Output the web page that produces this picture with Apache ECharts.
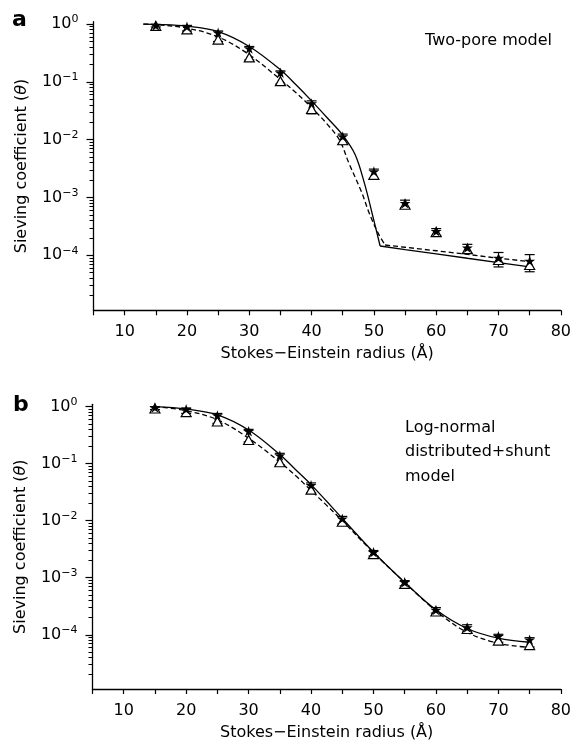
<!DOCTYPE html>
<html>
<head>
<meta charset="utf-8">
<script src="https://cdn.jsdelivr.net/npm/echarts@6/dist/echarts.min.js"></script>
<style>
  html, body { margin: 0; padding: 0; background: #fff; }
  #chart { width: 574px; height: 742px; }
</style>
</head>
<body>
<div id="chart"></div>
<script>
// measured radii (Å)
const radius = [15, 20, 25, 30, 35, 40, 45, 50, 55, 60, 65, 70, 75];

// panel a - two-pore model
const aStar = [0.95, 0.90, 0.71, 0.38, 0.144, 0.0425, 0.0114, 0.00283, 0.00080, 0.000262, 0.000135, 9.0e-5, 8.0e-5];
const aTriangle = [0.93, 0.81, 0.54, 0.265, 0.103, 0.034, 0.0098, 0.00247, 0.00075, 0.000252, 0.000128, 8.3e-5, 6.8e-5];
const aErrLow = [0.89, 0.76, 0.50, 0.24, 0.092, 0.028, 0.0083, 0.00214, 0.00066, 0.00022, 0.000108, 6.3e-5, 5.2e-5];
const aErrHigh = [0.99, 0.95, 0.76, 0.41, 0.155, 0.047, 0.0125, 0.0031, 0.0009, 0.00029, 0.000155, 1.12e-4, 1.03e-4];
const aSolidX = [13, 15, 20, 25, 30, 35, 37.5, 40, 42.5, 45, 47, 48.5, 49.7, 51, 55, 60, 65, 70, 75];
const aSolidY = [1.0, 0.99, 0.92, 0.74, 0.41, 0.162, 0.089, 0.047, 0.024, 0.012, 0.0055, 0.00174, 0.00054, 0.000145, 0.000126, 0.000106, 8.9e-5, 7.5e-5, 6.3e-5];
const aDashX = [13, 15, 20, 25, 30, 35, 37.5, 40, 42.5, 44.5, 46, 48, 49.3, 50.7, 51.8, 55, 60, 65, 70, 75];
const aDashY = [1.0, 0.98, 0.85, 0.60, 0.295, 0.11, 0.065, 0.036, 0.0186, 0.0098, 0.0039, 0.00126, 0.00052, 0.00024, 0.000151, 0.000138, 0.00012, 0.000104, 8.9e-5, 7.8e-5];
// radius where the two-pore curves break into the shunt tail
const aSolidKink = 51;
const aDashKink = 51.8;

// panel b - log-normal distributed + shunt model
const bStar = [0.97, 0.90, 0.70, 0.37, 0.139, 0.042, 0.0108, 0.0028, 0.00083, 0.000272, 0.000134, 9.4e-5, 8.2e-5];
const bTriangle = [0.93, 0.80, 0.55, 0.26, 0.106, 0.035, 0.0096, 0.0026, 0.00078, 0.000256, 0.000126, 7.9e-5, 6.6e-5];
const bErrLow = [0.89, 0.76, 0.51, 0.24, 0.095, 0.031, 0.0088, 0.0024, 0.00072, 0.00024, 0.000112, 7.4e-5, 6.1e-5];
const bErrHigh = [1.0, 0.95, 0.76, 0.40, 0.152, 0.046, 0.0119, 0.0030, 0.00089, 0.00030, 0.000150, 1.02e-4, 8.9e-5];
const bSolidX = [15, 20, 25, 30, 35, 37.5, 40, 42.5, 45, 47.5, 50, 55, 60, 65, 70, 75];
const bSolidY = [1.0, 0.91, 0.72, 0.39, 0.145, 0.079, 0.043, 0.0219, 0.011, 0.0055, 0.0028, 0.00083, 0.000275, 0.000129, 8.7e-5, 7.4e-5];
const bDashX = [15, 20, 25, 30, 35, 37.5, 40, 42.5, 45, 50, 55, 60, 65, 70, 75];
const bDashY = [1.0, 0.85, 0.59, 0.28, 0.107, 0.062, 0.034, 0.0186, 0.010, 0.00275, 0.00083, 0.000263, 0.00011, 7.1e-5, 6.0e-5];

// axes
const yLabelTicks = [1e-4, 1e-3, 1e-2, 1e-1, 1];
const yMin = 1.12e-5;
const yMax = 1.1;
const xMin = 5, xMax = 80, xStep = 5;

const FONT = 'DejaVu Sans';
const BLACK = '#000';
const STAR = 'path://M0,-100L22.45,-30.9L95.1,-30.9L36.3,11.8L58.8,80.9L0,38.2L-58.8,80.9L-36.3,11.8L-95.1,-30.9L-22.45,-30.9Z';

// minor log ticks 2..9 x 10^n
const yMinorTicks = [];
for (let e = -5; e <= 0; e++) {
  for (let k = 2; k <= 9; k++) {
    const v = k * Math.pow(10, e);
    if (v >= yMin && v <= yMax) yMinorTicks.push(v);
  }
}

const chart = echarts.init(document.getElementById('chart'), null, { renderer: 'canvas' });

const supLabel = (v) => {
  const e = Math.round(Math.log10(v));
  return '{b|10}{s|' + (e < 0 ? '\u2212' + (-e) : String(e)) + '}';
};

const makeX = (gridIndex) => ({
  type: 'value', gridIndex, min: xMin, max: xMax, interval: xStep,
  axisLine: { show: true, onZero: false, lineStyle: { color: BLACK, width: 1.3 } },
  axisTick: { show: true, length: 5, lineStyle: { color: BLACK, width: 1.2 } },
  axisLabel: {
    margin: 14, color: BLACK, fontFamily: FONT, fontSize: 16,
    formatter: (v) => (v % 10 === 0 ? String(v) : ''),
  },
  splitLine: { show: false },
  name: 'Stokes\u2212Einstein radius (\u00c5)',
  nameLocation: 'middle', nameGap: 36,
  nameTextStyle: { color: BLACK, fontFamily: FONT, fontSize: 16 },
});

const makeY = (gridIndex) => [
  {
    type: 'log', gridIndex, position: 'left', min: yMin, max: yMax,
    axisLine: { show: true, onZero: false, lineStyle: { color: BLACK, width: 1.3 } },
    axisTick: { show: true, length: 7, customValues: yLabelTicks, lineStyle: { color: BLACK, width: 1.2 } },
    axisLabel: {
      customValues: yLabelTicks, formatter: supLabel, margin: 15,
      rich: {
        b: { fontFamily: FONT, fontSize: 16, color: BLACK, lineHeight: 20 },
        s: { fontFamily: FONT, fontSize: 11, color: BLACK, verticalAlign: 'top', lineHeight: 11 },
      },
    },
    splitLine: { show: false },
    name: 'Sieving coefficient ({i|\u03b8})',
    nameLocation: 'middle', nameGap: 64, nameRotate: 90,
    nameTextStyle: {
      color: BLACK, fontFamily: FONT, fontSize: 16,
      rich: { i: { fontStyle: 'italic', fontFamily: FONT, fontSize: 16, color: BLACK } },
    },
  },
  {
    // minor ticks only
    type: 'log', gridIndex, position: 'left', offset: 0, min: yMin, max: yMax,
    axisLine: { show: false },
    axisTick: { show: true, length: 4, customValues: yMinorTicks, lineStyle: { color: BLACK, width: 1 } },
    axisLabel: { show: true, customValues: yMinorTicks, formatter: () => '' },
    splitLine: { show: false },
  },
];

// error bars drawn through the axes
const errorBars = (params, api) => {
  const x = api.value(0);
  const lo = api.coord([x, api.value(1)]);
  const hi = api.coord([x, api.value(2)]);
  const half = 5;
  const style = { stroke: BLACK, lineWidth: 1.2 };
  return {
    type: 'group',
    children: [
      { type: 'line', shape: { x1: lo[0], y1: lo[1], x2: hi[0], y2: hi[1] }, style },
      { type: 'line', shape: { x1: lo[0] - half, y1: lo[1], x2: lo[0] + half, y2: lo[1] }, style },
      { type: 'line', shape: { x1: hi[0] - half, y1: hi[1], x2: hi[0] + half, y2: hi[1] }, style },
    ],
  };
};

// a model curve; if a kink radius is given, the tail after it is drawn straight
const curveSeries = (idx, xs, ys, dashed, kink) => {
  const pts = xs.map((x, i) => [x, ys[i]]);
  const lineStyle = { color: BLACK, width: 1.3, type: dashed ? [5, 3] : 'solid' };
  const base = { type: 'line', xAxisIndex: idx, yAxisIndex: idx * 2, showSymbol: false, lineStyle, z: 3 };
  if (kink == null) return [{ ...base, data: pts, smooth: 0.35 }];
  const k = xs.indexOf(kink);
  return [
    { ...base, data: pts.slice(0, k + 1), smooth: 0.35 },
    { ...base, data: pts.slice(k), smooth: false },
  ];
};

const panelSeries = (idx, star, tri, lo, hi, sx, sy, dx, dy, sKink, dKink) => [
  {
    type: 'custom', xAxisIndex: idx, yAxisIndex: idx * 2,
    renderItem: errorBars, encode: { x: 0, y: [1, 2] },
    data: radius.map((r, i) => [r, lo[i], hi[i]]), z: 2,
  },
  ...curveSeries(idx, sx, sy, false, sKink),
  ...curveSeries(idx, dx, dy, true, dKink),
  {
    type: 'scatter', xAxisIndex: idx, yAxisIndex: idx * 2,
    data: radius.map((r, i) => [r, tri[i]]), symbol: 'triangle', symbolSize: [10, 9],
    itemStyle: { color: '#fff', borderColor: BLACK, borderWidth: 1.2, opacity: 1 }, z: 4,
  },
  {
    type: 'scatter', xAxisIndex: idx, yAxisIndex: idx * 2,
    data: radius.map((r, i) => [r, star[i]]), symbol: STAR, symbolSize: [11, 10.5],
    itemStyle: { color: BLACK, opacity: 1 }, z: 5,
  },
];

const option = {
  backgroundColor: '#fff',
  animation: false,
  grid: [
    { left: 93.5, top: 21.7, width: 468.5, height: 288.6 },
    { left: 92.5, top: 404.3, width: 469.5, height: 287 },
  ],
  xAxis: [makeX(0), makeX(1)],
  yAxis: [...makeY(0), ...makeY(1)],
  series: [
    ...panelSeries(0, aStar, aTriangle, aErrLow, aErrHigh, aSolidX, aSolidY, aDashX, aDashY, aSolidKink, aDashKink),
    ...panelSeries(1, bStar, bTriangle, bErrLow, bErrHigh, bSolidX, bSolidY, bDashX, bDashY, null, null),
  ],
  graphic: [
    { type: 'text', left: 12, top: 9.4, style: { text: 'a', fontFamily: FONT, fontSize: 22, fontWeight: 'bold', fill: BLACK } },
    { type: 'text', left: 13, top: 394.4, style: { text: 'b', fontFamily: FONT, fontSize: 22, fontWeight: 'bold', fill: BLACK } },
    { type: 'text', left: 425, top: 33.2, style: { text: 'Two-pore model', fontFamily: FONT, fontSize: 16, lineHeight: 16, fill: BLACK } },
    {
      type: 'text', left: 405, top: 415.3,
      style: { text: 'Log-normal\ndistributed+shunt\nmodel', fontFamily: FONT, fontSize: 16, lineHeight: 24.5, fill: BLACK },
    },
  ],
};

chart.setOption(option);
</script>
</body>
</html>
